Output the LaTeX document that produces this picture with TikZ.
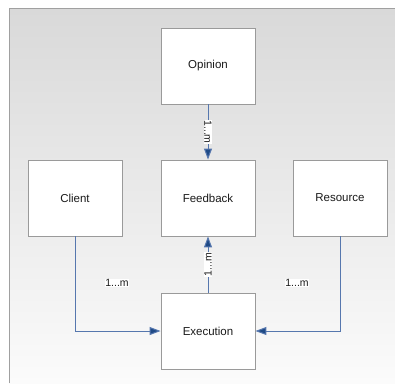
\documentclass[tikz,border=0pt]{standalone}
\usepackage{fontspec}
\setmainfont{Liberation Sans}
\usepackage{tikz}
\usetikzlibrary{arrows.meta, positioning}
\definecolor{panelgray}{HTML}{A0A0A0}
\definecolor{bgtop}{HTML}{D9D9D9}
\definecolor{bgbottom}{HTML}{FBFBFB}
\definecolor{boxgray}{HTML}{9A9A9A}
\definecolor{linkblue}{HTML}{5677AE}
\definecolor{tipblue}{HTML}{1F4A86}
\definecolor{darktext}{HTML}{1A1A1A}

\begin{document}
\begin{tikzpicture}[x=1pt, y=1pt,
    entity/.style={draw=boxgray, fill=white, line width=0.9pt, minimum width=94pt, minimum height=76pt,
      inner sep=0pt, text=darktext, font=\fontsize{11.5}{13}\selectfont},
    link/.style={draw=linkblue, line width=1pt, -{Triangle[length=11pt, width=8pt, fill=tipblue]}},
    mult/.style={fill=white, inner sep=0.6pt, text=darktext, font=\fontsize{10.5}{12}\selectfont}]
    \useasboundingbox (0,0) rectangle (395,383);
    % panel
    \shade[top color=bgtop, bottom color=bgbottom] (9,0) rectangle (395,374);
    \draw[panelgray, line width=1pt] (9,0) -- (9,374) -- (395,374);
    % entities
    \node[entity] (opinion) at (208,317) {Opinion};
    \node[entity] (feedback) at (208,185) {Feedback};
    \node[entity] (client) at (75,185) {Client};
    \node[entity] (resource) at (340,185) {Resource};
    \node[entity] (execution) at (208,52) {Execution};
    % relations
    \draw[link] (opinion) -- node[mult, rotate=-90] {1...m} (feedback);
    \draw[link] (execution) -- node[mult, rotate=90] {1...m} (feedback);
    \draw[link] (client.south) |- (execution.west);
    \draw[link] (resource.south) |- (execution.east);
    \node[mult] (clientmult) at (117,100) {1...m};
    \node[mult] (resourcemult) at (297,100) {1...m};
\end{tikzpicture}
\end{document}
